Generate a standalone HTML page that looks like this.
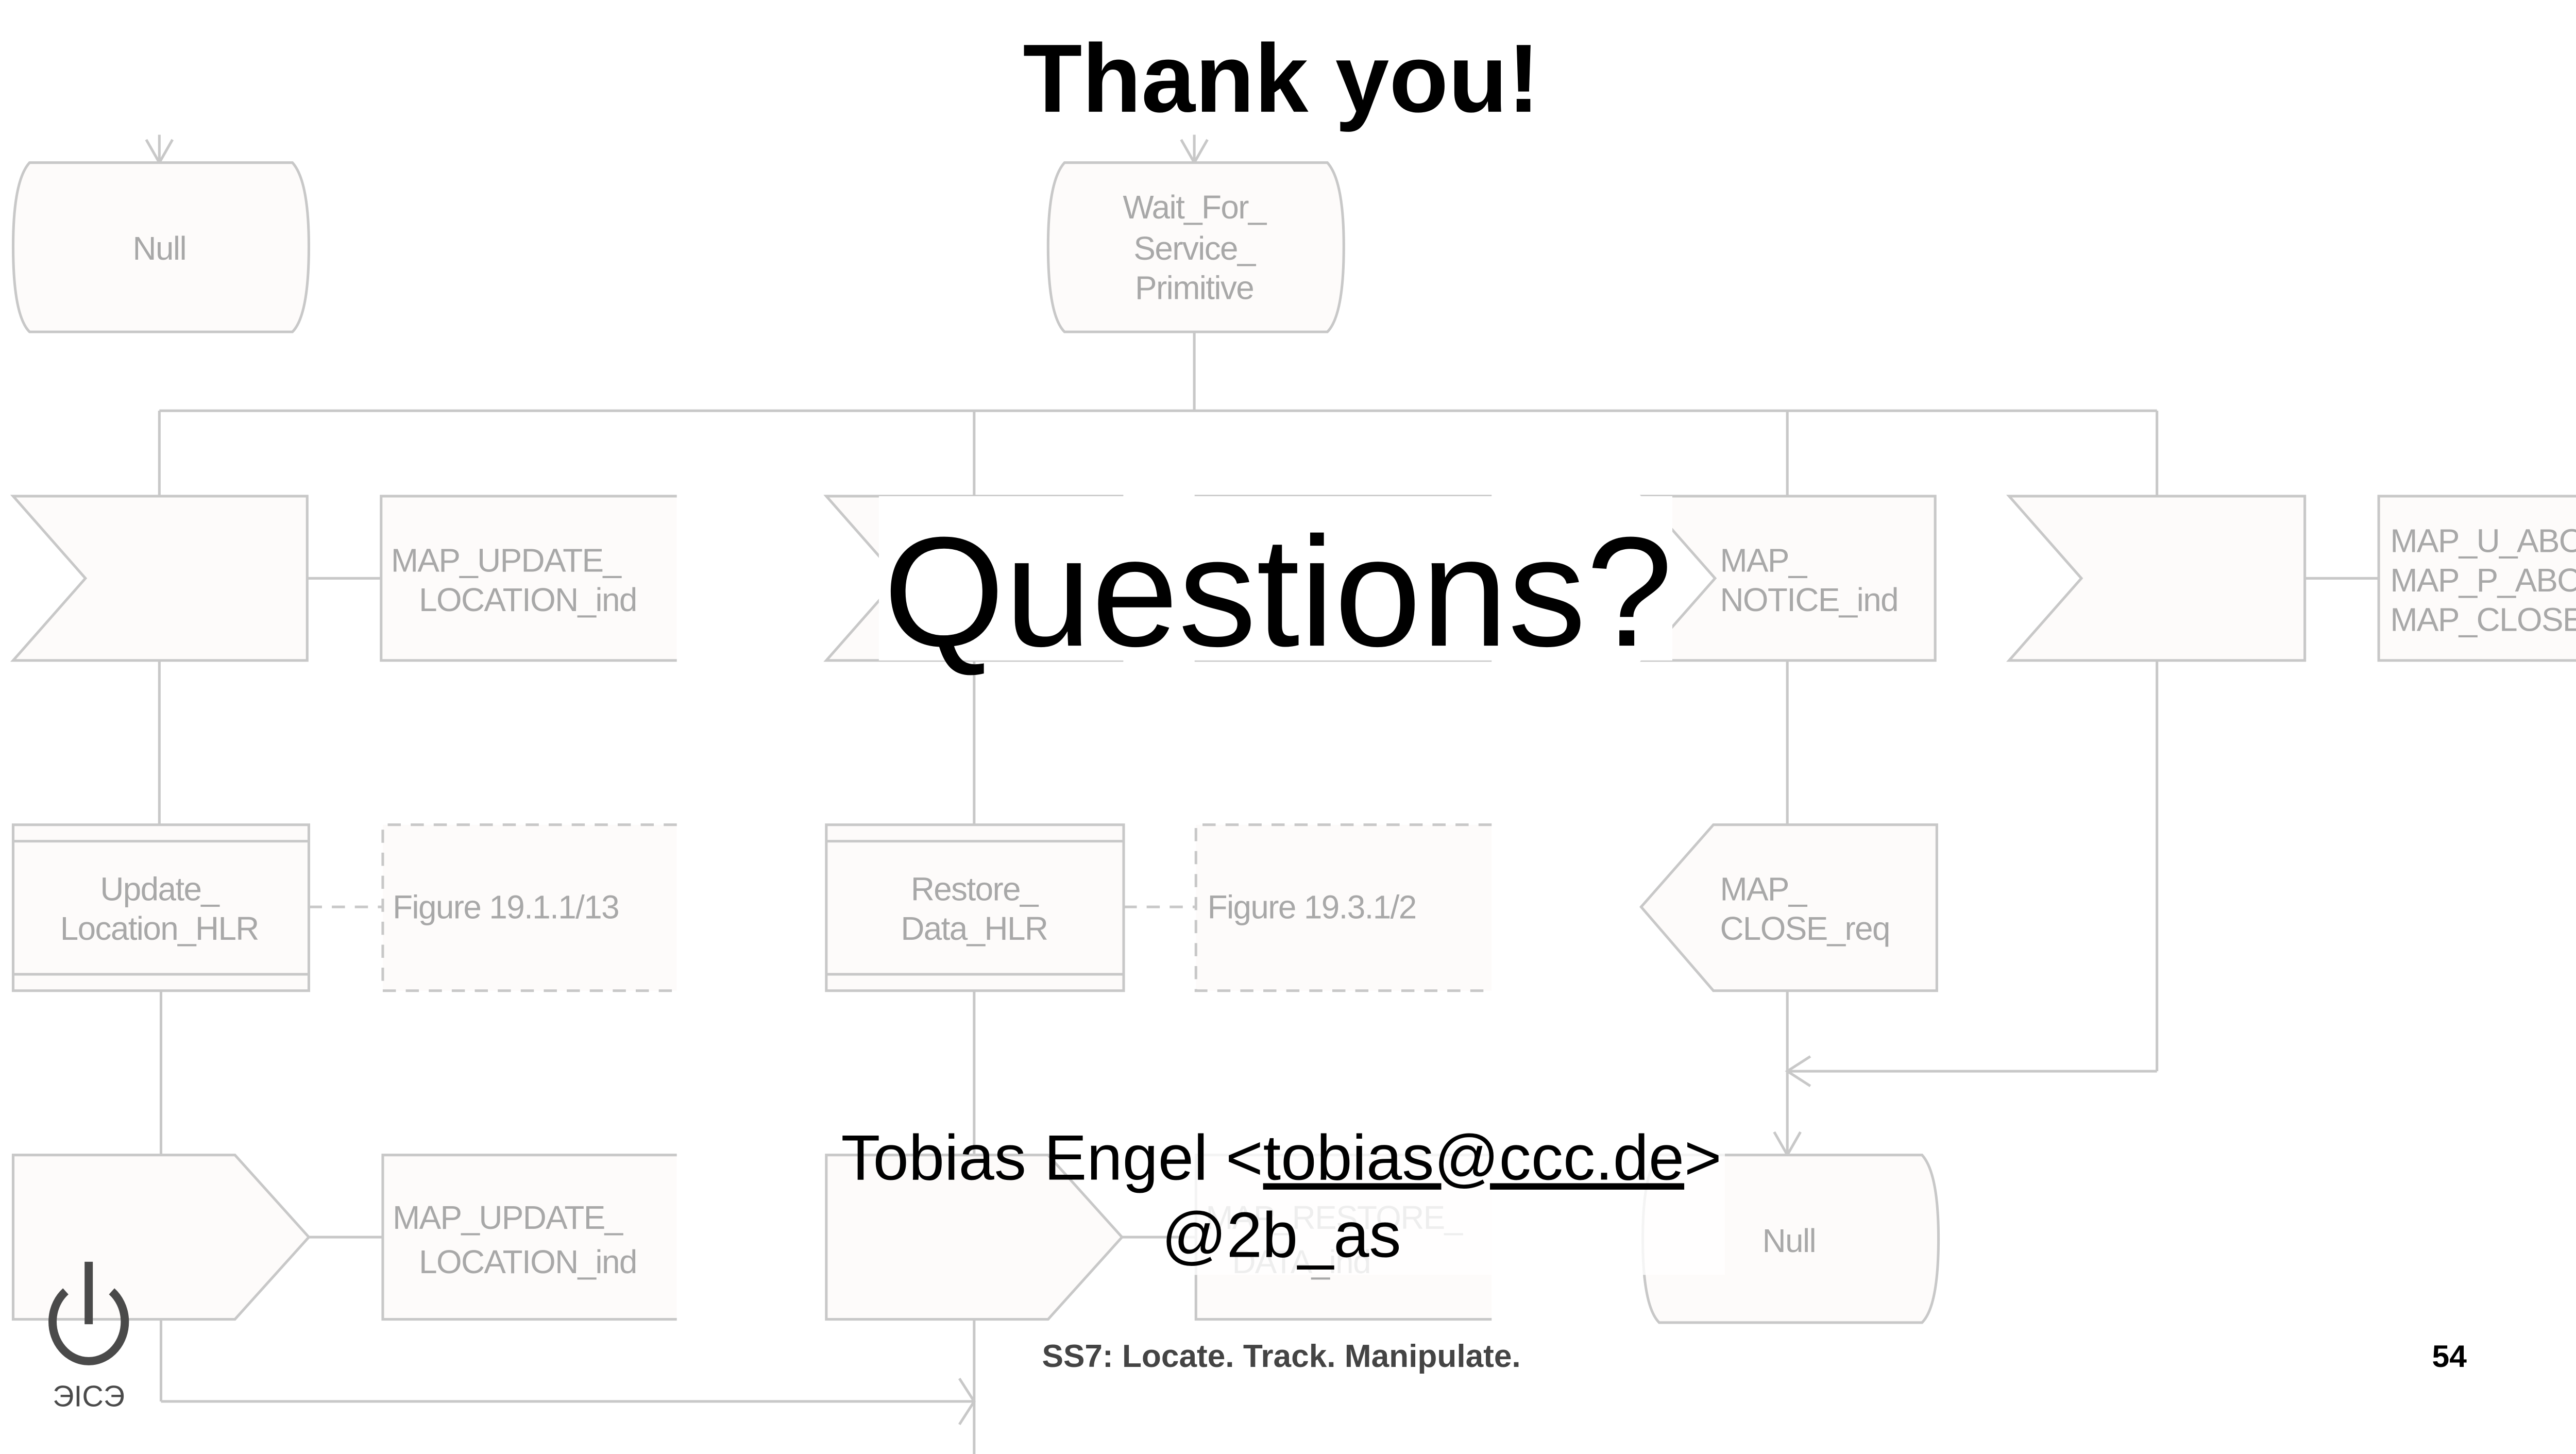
<!DOCTYPE html>
<html><head><meta charset="utf-8"><style>
html,body{margin:0;padding:0;background:#fff;}
svg{display:block;}
</style></head><body>
<svg width="5089" height="2822" viewBox="0 0 1596 885" preserveAspectRatio="none" xmlns="http://www.w3.org/2000/svg">
<rect width="1596" height="885" fill="#fff"/>
<g fill="none" stroke="#c8c8c8" stroke-width="1.6">
<line x1="97" y1="82" x2="97" y2="99"/><polyline points="89,85 97,99 105,85"/>
<line x1="727" y1="82" x2="727" y2="99"/><polyline points="719,85 727,99 735,85"/>
<line x1="727" y1="202" x2="727" y2="250"/>
<line x1="97" y1="250" x2="1313" y2="250"/>
<line x1="97" y1="250" x2="97" y2="302"/>
<line x1="593" y1="250" x2="593" y2="302"/>
<line x1="1088" y1="250" x2="1088" y2="302"/>
<line x1="1313" y1="250" x2="1313" y2="302"/>
<line x1="187" y1="352" x2="232" y2="352"/>
<line x1="683" y1="352" x2="728" y2="352"/>
<line x1="1403" y1="352" x2="1448" y2="352"/>
<line x1="97" y1="402" x2="97" y2="502"/>
<line x1="593" y1="402" x2="593" y2="502"/>
<line x1="1088" y1="402" x2="1088" y2="502"/>
<line x1="1313" y1="402" x2="1313" y2="652"/>
<line x1="1313" y1="652" x2="1088" y2="652"/><polyline points="1102,643 1088,652 1102,661"/>
<line x1="1088" y1="603" x2="1088" y2="703"/><polyline points="1080,689 1088,703 1096,689"/>
<line x1="188" y1="552" x2="233" y2="552" stroke-dasharray="8,6"/>
<line x1="684" y1="552" x2="728" y2="552" stroke-dasharray="8,6"/>
<line x1="98" y1="603" x2="98" y2="703"/>
<line x1="593" y1="603" x2="593" y2="885"/>
<line x1="188" y1="753" x2="233" y2="753"/>
<line x1="683" y1="753" x2="728" y2="753"/>
<line x1="98" y1="803" x2="98" y2="853"/>
<line x1="98" y1="853" x2="593" y2="853"/><polyline points="584,839 593,853 584,867"/>
</g>
<g fill="#fdfbfa" stroke="#c8c8c8" stroke-width="1.6">
<path d="M18,99 H178 Q188,110 188,150 Q188,192 178,202 H18 Q8,192 8,150 Q8,110 18,99 Z"/>
<path d="M648,99 H808 Q818,110 818,150 Q818,192 808,202 H648 Q638,192 638,150 Q638,110 648,99 Z"/>
<path d="M1010,703 H1170 Q1180,714 1180,754 Q1180,795 1170,805 H1010 Q1000,795 1000,754 Q1000,714 1010,703 Z"/>
<polygon points="8,302 187,302 187,402 8,402 52,352"/>
<polygon points="503,302 683,302 683,402 503,402 547,352"/>
<polygon points="1000,302 1178,302 1178,402 1000,402 1044,352"/>
<polygon points="1223,302 1403,302 1403,402 1223,402 1267,352"/>
<path d="M412,302 H232 V402 H412"/>
<path d="M908,302 H728 V402 H908"/>
<path d="M1596,302 H1448 V402 H1596"/>
<rect x="8" y="502" width="180" height="101"/>
<line x1="8" y1="512" x2="188" y2="512"/><line x1="8" y1="593" x2="188" y2="593"/>
<rect x="503" y="502" width="181" height="101"/>
<line x1="503" y1="512" x2="684" y2="512"/><line x1="503" y1="593" x2="684" y2="593"/>
<path d="M412,502 H233 V603 H412" stroke-dasharray="8,6"/>
<path d="M908,502 H728 V603 H908" stroke-dasharray="8,6"/>
<polygon points="999,552 1043,502 1179,502 1179,603 1043,603"/>
<polygon points="8,703 143,703 188,753 143,803 8,803"/>
<polygon points="503,703 638,703 683,753 638,803 503,803"/>
<path d="M412,703 H233 V803 H412"/>
<path d="M908,703 H728 V803 H908"/>
</g>
<g fill="#a8a8a8" font-family="Liberation Sans, sans-serif" font-size="20" style="letter-spacing:-0.5px">
<text x="97" y="158" text-anchor="middle">Null</text>
<text x="727" y="133" text-anchor="middle">Wait_For_</text>
<text x="727" y="158" text-anchor="middle">Service_</text>
<text x="727" y="182" text-anchor="middle">Primitive</text>
<text x="238" y="348">MAP_UPDATE_</text>
<text x="255" y="372">LOCATION_ind</text>
<text x="734" y="348">MAP_RESTORE_</text>
<text x="750" y="372">DATA_ind</text>
<text x="1047" y="348">MAP_</text>
<text x="1047" y="372">NOTICE_ind</text>
<text x="1455" y="336">MAP_U_ABORT</text>
<text x="1455" y="360">MAP_P_ABORT</text>
<text x="1455" y="384">MAP_CLOSE</text>
<text x="97" y="548" text-anchor="middle">Update_</text>
<text x="97" y="572" text-anchor="middle">Location_HLR</text>
<text x="593" y="548" text-anchor="middle">Restore_</text>
<text x="593" y="572" text-anchor="middle">Data_HLR</text>
<text x="239" y="559">Figure 19.1.1/13</text>
<text x="735" y="559">Figure 19.3.1/2</text>
<text x="1047" y="548">MAP_</text>
<text x="1047" y="572">CLOSE_req</text>
<text x="239" y="748">MAP_UPDATE_</text>
<text x="255" y="775">LOCATION_ind</text>
<text x="734" y="748">MAP_RESTORE_</text>
<text x="750" y="775">DATA_ind</text>
<text x="1089" y="762" text-anchor="middle">Null</text>
</g>
<rect x="535" y="302" width="483" height="100" fill="#fff"/>
<rect x="720" y="690" width="330" height="86" fill="#fff" opacity="0.8"/>
<g font-family="Liberation Sans, sans-serif" fill="#000">
<text x="780" y="68" text-anchor="middle" font-size="59" font-weight="bold">Thank you!</text>
<text x="778" y="393" text-anchor="middle" font-size="95">Questions?</text>
<text x="780" y="718" text-anchor="middle" font-size="39">Tobias Engel &lt;<tspan text-decoration="underline">tobias@ccc.de</tspan>&gt;</text>
<text x="780" y="765" text-anchor="middle" font-size="39">@2b_as</text>
<text x="780" y="832" text-anchor="middle" font-size="19.5" font-weight="bold" fill="#444">SS7: Locate. Track. Manipulate.</text>
<text x="1491" y="832" text-anchor="middle" font-size="19" font-weight="bold" fill="#000">54</text>
</g>
<g stroke="#4a4a4a" fill="none">
<path d="M40,786 A22,24 0 1 0 68,786" stroke-width="5"/>
<line x1="54" y1="768" x2="54" y2="806" stroke-width="5"/>
</g>
<text x="54" y="856" text-anchor="middle" font-family="Liberation Sans, DejaVu Sans, sans-serif" font-size="18" fill="#4a4a4a">ЭICЭ</text>
</svg>
</body></html>
